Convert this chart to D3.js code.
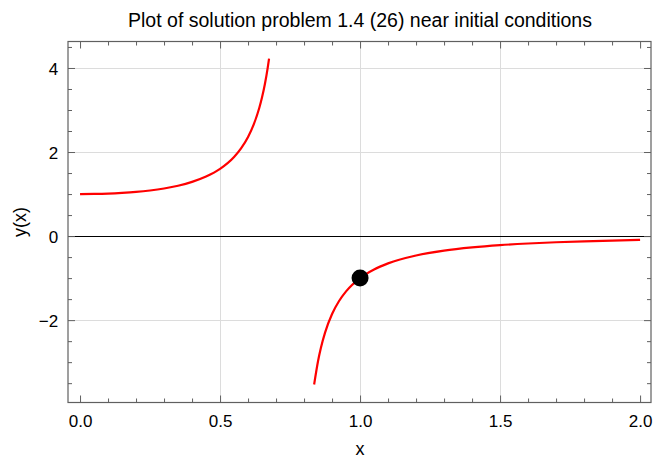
<!DOCTYPE html>
<html><head><meta charset="utf-8">
<script src="https://cdn.jsdelivr.net/npm/d3@7"></script>
<style>body{margin:0;background:#fff;} svg{display:block;} text{font-family:"Liberation Sans",Arial,sans-serif;}</style>
</head><body>
<svg id="c" width="654" height="461"></svg>
<script>
const title = "Plot of solution problem 1.4 (26) near initial conditions";
const xLabel = "x", yLabel = "y(x)";
const xTicks = [0, 0.5, 1.0, 1.5, 2.0];
const yTicks = [-2, 0, 2, 4];
// left branch (x < singularity)
const leftX = [0, 0.05, 0.1, 0.15, 0.2, 0.25, 0.3, 0.35, 0.4, 0.45, 0.5, 0.55, 0.575, 0.6, 0.62, 0.64, 0.65, 0.66, 0.67, 0.675];
const leftY = [1.0, 1.003, 1.011, 1.027, 1.050, 1.085, 1.133, 1.198, 1.289, 1.416, 1.6, 1.883, 2.087, 2.358, 2.651, 3.046, 3.302, 3.611, 3.995, 4.222];
// right branch
const rightX = [0.836, 0.85, 0.86, 0.875, 0.9, 0.925, 0.95, 1.0, 1.05, 1.1, 1.2, 1.3, 1.4, 1.5, 1.6, 1.7, 1.8, 1.9, 2.0];
const rightY = [-3.531, -2.971, -2.662, -2.296, -1.855, -1.545, -1.316, -1.0, -0.794, -0.649, -0.461, -0.346, -0.270, -0.216, -0.177, -0.147, -0.124, -0.106, -0.091];
const initX = [1.0], initY = [-1.0];

const svg = d3.select("#c");
const L = 68, R = 651, T = 41.5, B = 402.5;
const x = d3.scaleLinear().domain([-0.043, 2.039]).range([L, R]);
const y = d3.scaleLinear().domain([-3.96, 4.63]).range([B, T]);
const cx = v => Math.round(x(v)) + 0.5;
const cy = v => Math.round(y(v)) + 0.5;

const frame = "#606060";
// grid
svg.append("g").selectAll("line").data([0.5, 1.0, 1.5]).join("line")
  .attr("x1", d => cx(d)).attr("x2", d => cx(d)).attr("y1", T).attr("y2", B)
  .attr("stroke", "#dcdcdc").attr("stroke-width", 1);
svg.append("g").selectAll("line").data([-2, 2, 4]).join("line")
  .attr("y1", d => cy(d)).attr("y2", d => cy(d)).attr("x1", L).attr("x2", R)
  .attr("stroke", "#dcdcdc").attr("stroke-width", 1);
// zero axis
svg.append("line").attr("x1", L).attr("x2", R).attr("y1", cy(0)).attr("y2", cy(0))
  .attr("stroke", "#000").attr("stroke-width", 1);

// axes
const fmtX = d3.format(".1f");
const fmtY = d => d < 0 ? "\u2212" + Math.abs(d) : String(d);
const xMinor = d3.range(0, 2.0001, 0.1).map(v => +v.toFixed(1)).filter(v => !xTicks.includes(v));
const yMinor = d3.range(-3.5, 4.6, 0.5).filter(v => !yTicks.includes(v));

function tickG(axisFn, scale, vals, size, tr, fmt) {
  const g = svg.append("g").attr("transform", tr)
    .call(axisFn(scale).tickValues(vals).tickSize(size).tickPadding(9).tickFormat(fmt || ""));
  g.select(".domain").remove();
  g.selectAll(".tick line").attr("stroke", frame).attr("stroke-width", 1);
  g.selectAll("text").attr("fill", "#000").attr("font-size", 17);
  return g;
}
// bottom
tickG(d3.axisTop, x, xTicks, 7, `translate(0,${B})`);
tickG(d3.axisTop, x, xMinor, 4, `translate(0,${B})`);
tickG(d3.axisBottom, x, xTicks, 0, `translate(0,${B})`, fmtX).selectAll("text").attr("dy", "0.9em");
// top
tickG(d3.axisBottom, x, xTicks, 7, `translate(0,${T})`);
tickG(d3.axisBottom, x, xMinor, 4, `translate(0,${T})`);
// left
tickG(d3.axisRight, y, yTicks, 7, `translate(${L},0)`);
tickG(d3.axisRight, y, yMinor, 4, `translate(${L},0)`);
tickG(d3.axisLeft, y, yTicks, 0, `translate(${L},0)`, fmtY).selectAll("text").attr("dx", "-0.05em").attr("dy", "0.4em");
// right
tickG(d3.axisLeft, y, yTicks, 7, `translate(${R},0)`);
tickG(d3.axisLeft, y, yMinor, 4, `translate(${R},0)`);

// frame
svg.append("rect").attr("x", L).attr("y", T).attr("width", R - L).attr("height", B - T)
  .attr("fill", "none").attr("stroke", frame).attr("stroke-width", 1.2);

// curves
const line = d3.line().x(d => x(d[0])).y(d => y(d[1])).curve(d3.curveMonotoneX);
svg.append("path").datum(d3.zip(leftX, leftY)).attr("d", line)
  .attr("fill", "none").attr("stroke", "#ff0000").attr("stroke-width", 2.2);
svg.append("path").datum(d3.zip(rightX, rightY)).attr("d", line)
  .attr("fill", "none").attr("stroke", "#ff0000").attr("stroke-width", 2.2);

svg.selectAll("circle.pt").data(d3.zip(initX, initY)).join("circle").attr("class", "pt")
  .attr("cx", d => x(d[0])).attr("cy", d => y(d[1])).attr("r", 8.5).attr("fill", "#000");

// labels
svg.append("text").attr("x", 360).attr("y", 27).attr("text-anchor", "middle")
  .attr("font-size", 19.5).text(title);
svg.append("text").attr("x", 360).attr("y", 455).attr("text-anchor", "middle")
  .attr("font-size", 18).text(xLabel);
svg.append("text").attr("transform", `translate(26,${(T + B) / 2}) rotate(-90)`)
  .attr("text-anchor", "middle").attr("font-size", 18).text(yLabel);
</script>
</body></html>
